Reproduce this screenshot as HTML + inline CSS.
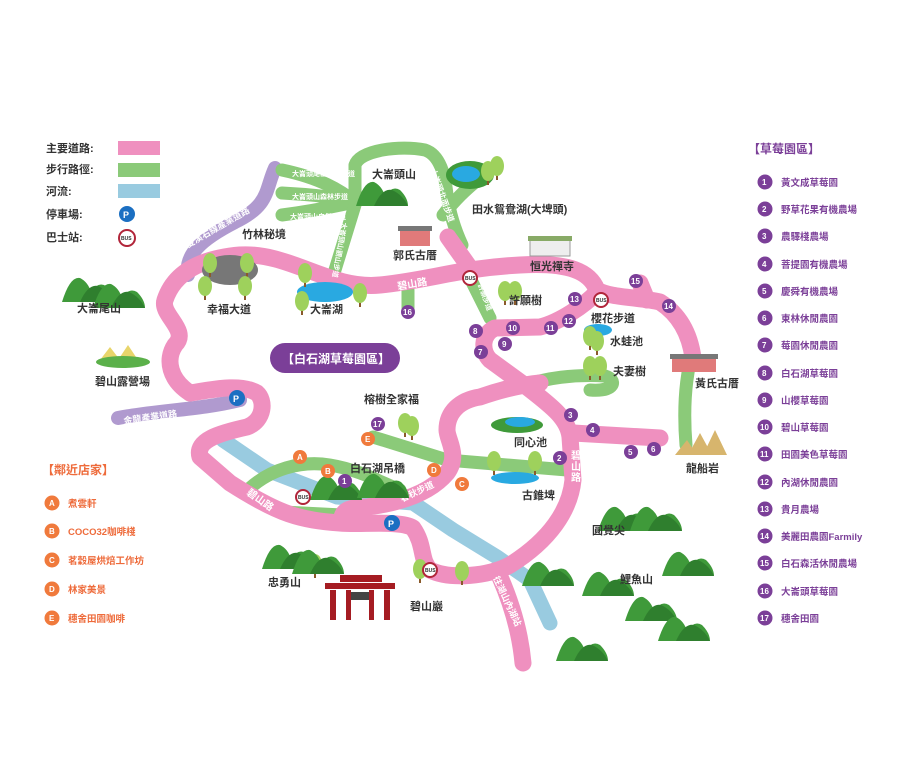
<!DOCTYPE html>
<html><head><meta charset="utf-8"><style>
body{margin:0;background:#fff}
svg text{font-family:"Liberation Sans","Noto Sans CJK TC",sans-serif;font-weight:bold}
</style></head><body>
<svg width="906" height="768" viewBox="0 0 906 768" xmlns="http://www.w3.org/2000/svg">
<defs>
<g id="mt"><path d="M0 26 Q8 0 18 2 Q26 6 29 16 Q36 5 44 10 Q52 18 52 26 Z" fill="#3f9a3a"/><path d="M18 26 Q26 8 36 10 Q47 15 52 26Z" fill="#2f7f2e"/></g>
<g id="tr"><rect x="-1" y="6" width="2" height="9" fill="#8a5a2b"/><ellipse cx="0" cy="1" rx="7" ry="10" fill="#9ed15c"/></g>
</defs>
<g fill="none" stroke-linecap="round" stroke-linejoin="round">
<path d="M223 440 L267 470 L337 497 L413 503 L453 530 L497 557 L530 580 L550 623" stroke="#99cbe0" stroke-width="15"/>
<path d="M275 168 C265 190 270 205 235 222 C200 240 185 255 188 275" stroke="#b09acf" stroke-width="14"/>
<path d="M118 418 C160 410 200 410 240 400" stroke="#b09acf" stroke-width="14"/>
<g stroke="#8bca79" stroke-width="13">
<path d="M282 170 C320 178 340 190 355 202"/>
<path d="M282 193 C320 195 340 198 355 202"/>
<path d="M282 215 C320 210 340 205 355 202"/>
<path d="M335 270 L355 205 L355 165 C360 150 400 145 425 150 C440 155 445 175 447 195 C450 215 455 230 462 245"/>
<path d="M443 215 C455 200 465 190 480 178"/>
<path d="M470 278 L490 318"/>
<path d="M408 290 L408 308"/>
<path d="M523 386 C545 378 575 374 605 376 C618 380 615 392 590 390"/>
<path d="M690 362 C684 390 684 420 686 445"/>
<path d="M373 437 L447 460 L567 470"/>
<path d="M250 488 C270 470 300 460 330 465 C360 470 380 482 400 490"/>
<path d="M283 512 L342 515"/>
</g>
<g stroke="#ef90bf" stroke-width="17">
<path d="M190 393 C170 380 165 360 175 345 C190 330 160 315 165 300 C175 270 205 258 240 255 C290 252 330 290 380 285 C430 280 460 268 520 265 C570 262 590 272 597 290 C610 298 640 297 660 302 C680 315 690 335 693 358"/>
<path d="M448 237 L470 268"/>
<path d="M647 300 L640 283"/>
<path d="M597 292 C585 305 560 322 540 327 L495 328 C480 335 482 352 490 360 L527 387 C550 405 568 418 570 437 L573 480 C570 510 550 540 510 565 C490 576 450 580 430 570 C420 560 425 545 413 528 C400 520 360 525 340 523 C300 520 280 515 230 483 L200 457 C195 440 220 433 247 427 C265 420 265 400 257 393 C240 383 210 390 190 393"/>
<path d="M573 433 L660 438"/>
<path d="M342 523 C340 510 350 507 367 507 C400 503 430 493 447 473 C460 455 447 440 447 430 C447 412 460 400 480 397 C500 390 520 385 540 383"/>
<path d="M500 577 C510 600 520 630 523 663"/>
</g>
</g>
<g fill="#fff" font-size="10">
<text x="398" y="290" transform="rotate(-10 398 290)">碧山路</text>
<text x="246" y="494" transform="rotate(35 246 494)">碧山路</text>
<text x="571" y="459">碧</text><text x="571" y="470">山</text><text x="571" y="481">路</text>
<text x="402" y="502" transform="rotate(-25 402 502)" font-size="9">春秋步道</text>
<text x="188" y="248" transform="rotate(-30 188 248)" font-size="9">雙溪右線產業道路</text>
<text x="124" y="424" transform="rotate(-8 124 424)" font-size="9">金龍產業道路</text>
<text x="493" y="578" transform="rotate(65 493 578)" font-size="9">往湖山內湖站</text>
<text x="292" y="176" font-size="7">大崙頭尾山親山步道</text>
<text x="292" y="199" font-size="7">大崙頭山森林步道</text>
<text x="290" y="219" font-size="7">大崙頭山自然步道</text>
<text x="430" y="170" transform="rotate(70 430 170)" font-size="8">大崙頭北面步道</text>
<text x="342" y="222" transform="rotate(100 342 222)" font-size="7">大崙頭山觀山步道</text>
<text x="478" y="285" transform="rotate(70 478 285)" font-size="7">許願步道</text>
</g>
<ellipse cx="325" cy="292" rx="28" ry="10" fill="#29a9e1"/>
<ellipse cx="470" cy="175" rx="24" ry="14" fill="#3f9a3a"/><ellipse cx="466" cy="174" rx="14" ry="8" fill="#29a9e1"/>
<ellipse cx="230" cy="270" rx="28" ry="15" fill="#777"/>
<ellipse cx="517" cy="425" rx="26" ry="8" fill="#3f9a3a"/><ellipse cx="520" cy="422" rx="15" ry="5" fill="#29a9e1"/>
<ellipse cx="515" cy="478" rx="24" ry="6" fill="#29a9e1"/>
<ellipse cx="350" cy="494" rx="16" ry="4" fill="#29a9e1"/>
<ellipse cx="598" cy="330" rx="14" ry="6" fill="#29a9e1"/>
<g>
<use href="#tr" x="210" y="262"/><use href="#tr" x="247" y="262"/><use href="#tr" x="205" y="285"/><use href="#tr" x="245" y="285"/>
<use href="#tr" x="305" y="272"/><use href="#tr" x="360" y="292"/><use href="#tr" x="302" y="300"/>
<use href="#tr" x="505" y="290"/><use href="#tr" x="515" y="290"/>
<use href="#tr" x="590" y="365"/><use href="#tr" x="600" y="365"/>
<use href="#tr" x="590" y="335"/><use href="#tr" x="597" y="340"/>
<use href="#tr" x="405" y="422"/><use href="#tr" x="412" y="425"/>
<use href="#tr" x="494" y="460"/><use href="#tr" x="535" y="460"/>
<use href="#tr" x="315" y="563"/><use href="#tr" x="420" y="568"/><use href="#tr" x="462" y="570"/>
<use href="#tr" x="488" y="170"/><use href="#tr" x="497" y="165"/>
</g>
<g>
<use href="#mt" x="356" y="180"/><use href="#mt" x="62" y="276"/><use href="#mt" x="93" y="282"/>
<use href="#mt" x="262" y="543"/><use href="#mt" x="292" y="548"/>
<use href="#mt" x="310" y="474"/><use href="#mt" x="357" y="472"/>
<use href="#mt" x="598" y="505"/><use href="#mt" x="630" y="505"/>
<use href="#mt" x="522" y="560"/><use href="#mt" x="582" y="570"/>
<use href="#mt" x="625" y="595"/><use href="#mt" x="658" y="615"/>
<use href="#mt" x="556" y="635"/><use href="#mt" x="662" y="550"/>
</g>
<rect x="400" y="230" width="30" height="16" fill="#e07a7a"/><rect x="398" y="226" width="34" height="5" fill="#777"/>
<rect x="530" y="240" width="40" height="16" fill="#eee" stroke="#999"/><rect x="528" y="236" width="44" height="5" fill="#8a6"/>
<rect x="672" y="358" width="44" height="14" fill="#e07a7a"/><rect x="670" y="354" width="48" height="5" fill="#777"/>
<g fill="#a51c22"><rect x="325" y="583" width="70" height="6"/><rect x="330" y="590" width="6" height="30"/><rect x="384" y="590" width="6" height="30"/><rect x="346" y="590" width="5" height="30"/><rect x="369" y="590" width="5" height="30"/><rect x="340" y="575" width="42" height="7"/></g>
<rect x="351" y="592" width="18" height="8" fill="#444"/>
<path d="M688 455 L700 433 L712 455Z M703 455 L715 430 L727 455Z M675 455 L687 440 L697 455Z" fill="#d7b56d"/>
<path d="M100 360 L110 347 L120 360Z M118 360 L128 345 L138 360Z" fill="#e8d56b"/><ellipse cx="123" cy="362" rx="27" ry="6" fill="#5bb04a"/>
<g font-size="11" fill="#333">
<text x="46" y="152">主要道路:</text><rect x="118" y="141" width="42" height="14" fill="#ef90bf"/>
<text x="46" y="173">步行路徑:</text><rect x="118" y="163" width="42" height="14" fill="#8bca79"/>
<text x="46" y="195">河流:</text><rect x="118" y="184" width="42" height="14" fill="#99cbe0"/>
<text x="46" y="218">停車場:</text>
<text x="46" y="241">巴士站:</text>
</g>
<g font-weight="bold">
<g font-size="9"><circle cx="127" cy="214" r="8" fill="#1b6fc2"/><text x="123" y="218" fill="#fff">P</text>
<circle cx="237" cy="398" r="8" fill="#1b6fc2"/><text x="233" y="402" fill="#fff">P</text>
<circle cx="392" cy="523" r="8" fill="#1b6fc2"/><text x="388" y="527" fill="#fff">P</text></g>
<g font-size="5" fill="#333"><circle cx="127" cy="238" r="8" fill="#fff" stroke="#b1253a" stroke-width="2"/><text x="121" y="240">BUS</text>
<circle cx="470" cy="278" r="7" fill="#fff" stroke="#b1253a" stroke-width="2"/><text x="465" y="280">BUS</text>
<circle cx="601" cy="300" r="7" fill="#fff" stroke="#b1253a" stroke-width="2"/><text x="596" y="302">BUS</text>
<circle cx="303" cy="497" r="7" fill="#fff" stroke="#b1253a" stroke-width="2"/><text x="298" y="499">BUS</text>
<circle cx="430" cy="570" r="7" fill="#fff" stroke="#b1253a" stroke-width="2"/><text x="425" y="572">BUS</text></g>
</g>
<g font-size="11" fill="#333">
<text x="372" y="178">大崙頭山</text><text x="472" y="213">田水鴛鴦湖(大埤頭)</text>
<text x="242" y="238">竹林秘境</text><text x="393" y="259">郭氏古厝</text><text x="530" y="270">恒光禪寺</text>
<text x="207" y="313">幸福大道</text><text x="310" y="313">大崙湖</text><text x="77" y="312">大崙尾山</text>
<text x="509" y="304">許願樹</text><text x="591" y="322">櫻花步道</text><text x="610" y="345">水蛙池</text>
<text x="613" y="375">夫妻樹</text><text x="695" y="387">黃氏古厝</text><text x="686" y="472">龍船岩</text>
<text x="95" y="385">碧山露營場</text><text x="364" y="403">榕樹全家福</text><text x="350" y="472">白石湖吊橋</text>
<text x="514" y="446">同心池</text><text x="522" y="499">古錐埤</text><text x="592" y="534">圓覺尖</text>
<text x="620" y="583">鯉魚山</text><text x="268" y="586">忠勇山</text><text x="410" y="610">碧山巖</text>
</g>
<rect x="270" y="343" width="130" height="30" rx="15" fill="#7b3f98"/>
<text x="282" y="363" font-size="12" fill="#fff">【白石湖草莓園區】</text>
<g font-size="8" fill="#fff">
<g fill="#7b3f98"><circle cx="345" cy="481" r="7"/><circle cx="560" cy="458" r="7"/><circle cx="571" cy="415" r="7"/><circle cx="593" cy="430" r="7"/><circle cx="631" cy="452" r="7"/><circle cx="654" cy="449" r="7"/><circle cx="481" cy="352" r="7"/><circle cx="476" cy="331" r="7"/><circle cx="505" cy="344" r="7"/><circle cx="513" cy="328" r="7"/><circle cx="551" cy="328" r="7"/><circle cx="569" cy="321" r="7"/><circle cx="575" cy="299" r="7"/><circle cx="669" cy="306" r="7"/><circle cx="636" cy="281" r="7"/><circle cx="408" cy="312" r="7"/><circle cx="378" cy="424" r="7"/></g>
<text x="342" y="484">1</text><text x="557" y="461">2</text><text x="568" y="418">3</text><text x="590" y="433">4</text><text x="628" y="455">5</text><text x="651" y="452">6</text><text x="478" y="355">7</text><text x="473" y="334">8</text><text x="502" y="347">9</text><text x="508" y="331">10</text><text x="546" y="331">11</text><text x="564" y="324">12</text><text x="570" y="302">13</text><text x="664" y="309">14</text><text x="631" y="284">15</text><text x="403" y="315">16</text><text x="373" y="427">17</text>
<g fill="#f07a3c"><circle cx="300" cy="457" r="7"/><circle cx="328" cy="471" r="7"/><circle cx="462" cy="484" r="7"/><circle cx="434" cy="470" r="7"/><circle cx="368" cy="439" r="7"/></g>
<text x="297" y="460">A</text><text x="325" y="474">B</text><text x="459" y="487">C</text><text x="431" y="473">D</text><text x="365" y="442">E</text>
</g>
<text x="748" y="153" font-size="12" fill="#7b3f98">【草莓園區】</text>
<g font-size="9.5" fill="#7b3f98">
<g><circle cx="765" cy="182" r="7.5"/><circle cx="765" cy="209" r="7.5"/><circle cx="765" cy="236" r="7.5"/><circle cx="765" cy="264" r="7.5"/><circle cx="765" cy="291" r="7.5"/><circle cx="765" cy="318" r="7.5"/><circle cx="765" cy="345" r="7.5"/><circle cx="765" cy="373" r="7.5"/><circle cx="765" cy="400" r="7.5"/><circle cx="765" cy="427" r="7.5"/><circle cx="765" cy="454" r="7.5"/><circle cx="765" cy="482" r="7.5"/><circle cx="765" cy="509" r="7.5"/><circle cx="765" cy="536" r="7.5"/><circle cx="765" cy="563" r="7.5"/><circle cx="765" cy="591" r="7.5"/><circle cx="765" cy="618" r="7.5"/></g>
<text x="781" y="186">黃文成草莓園</text><text x="781" y="213">野草花果有機農場</text><text x="781" y="240">農驛棧農場</text><text x="781" y="268">菩提園有機農場</text><text x="781" y="295">慶舜有機農場</text><text x="781" y="322">東林休閒農園</text><text x="781" y="349">莓園休閒農園</text><text x="781" y="377">白石湖草莓園</text><text x="781" y="404">山櫻草莓園</text><text x="781" y="431">碧山草莓園</text><text x="781" y="458">田園美色草莓園</text><text x="781" y="486">內湖休閒農園</text><text x="781" y="513">貴月農場</text><text x="781" y="540">美麗田農園Farmily</text><text x="781" y="567">白石森活休閒農場</text><text x="781" y="595">大崙頭草莓園</text><text x="781" y="622">穗舍田園</text>
</g>
<g font-size="8" fill="#fff"><text x="762" y="185">1</text><text x="762" y="212">2</text><text x="762" y="239">3</text><text x="762" y="267">4</text><text x="762" y="294">5</text><text x="762" y="321">6</text><text x="762" y="348">7</text><text x="762" y="376">8</text><text x="762" y="403">9</text><text x="760" y="430">10</text><text x="760" y="457">11</text><text x="760" y="485">12</text><text x="760" y="512">13</text><text x="760" y="539">14</text><text x="760" y="566">15</text><text x="760" y="594">16</text><text x="760" y="621">17</text></g>
<text x="42" y="474" font-size="12" fill="#ee6b3b">【鄰近店家】</text>
<g fill="#f07a3c"><circle cx="52" cy="503" r="7.5"/><circle cx="52" cy="531" r="7.5"/><circle cx="52" cy="560" r="7.5"/><circle cx="52" cy="589" r="7.5"/><circle cx="52" cy="618" r="7.5"/></g>
<g font-size="8" fill="#fff"><text x="49" y="506">A</text><text x="49" y="534">B</text><text x="49" y="563">C</text><text x="49" y="592">D</text><text x="49" y="621">E</text></g>
<g font-size="9.5" fill="#ee6b3b"><text x="68" y="507">煮雲軒</text><text x="68" y="535">COCO32咖啡棧</text><text x="68" y="564">茗穀屋烘焙工作坊</text><text x="68" y="593">林家美景</text><text x="68" y="622">穗舍田園咖啡</text></g>
</svg>
</body></html>
